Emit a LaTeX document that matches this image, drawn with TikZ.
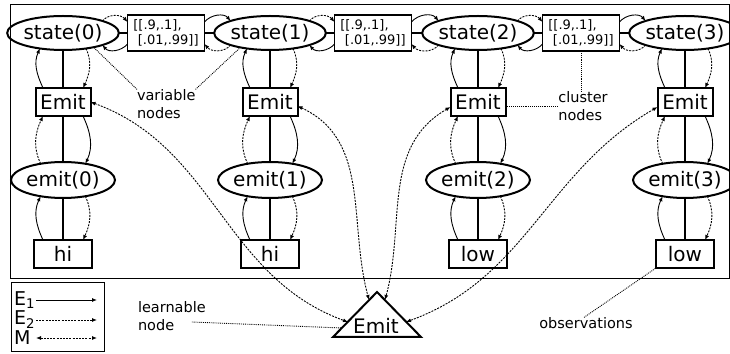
\documentclass[tikz,border=0pt]{standalone}
\usepackage{fontspec}
\setmainfont{DejaVu Sans}
\usetikzlibrary{arrows.meta,calc,shapes.geometric}
\begin{document}
\begin{tikzpicture}[x=1pt,y=1pt,
  every node/.style={inner sep=0pt, outer sep=0pt},
  bigfont/.style={font=\fontsize{20}{23}\selectfont},
  var/.style={ellipse, draw, line width=2pt, minimum width=92pt, minimum height=34pt, bigfont},
  box/.style={rectangle, draw, line width=2pt, minimum width=55pt, minimum height=28pt, bigfont},
  obsbox/.style={box, minimum width=58pt},
  clus/.style={rectangle, draw, line width=1.7pt, minimum width=77pt, minimum height=36pt, align=left, font=\fontsize{13}{15.5}\selectfont},
  link/.style={line width=1.5pt},
  eone/.style={-{Latex[length=5pt,width=4pt]}, line width=0.9pt},
  etwo/.style={eone, dash pattern=on 2pt off 1.2pt},
  mm/.style={{Latex[length=5pt,width=4pt]}-{Latex[length=5pt,width=4pt]}, line width=0.9pt, dash pattern=on 2pt off 1.2pt},
  ptr/.style={line width=0.9pt, densely dotted},
  lab/.style={font=\fontsize{14.5}{18}\selectfont, align=left},
  leg/.style={font=\fontsize{19}{20}\selectfont, text width=20pt, align=left, anchor=west},
]
\fill[white] (0,0) rectangle (730,353);
\useasboundingbox (0,0) rectangle (730,353);

% frames
\draw[line width=1pt] (10,74) rectangle (729,348);
\draw[line width=1pt] (11,2) rectangle (104,70);

% columns
\foreach \i/\x/\o in {0/63/hi,1/270/hi,2/478/low,3/685/low}{
  \node[var] (S\i) at (\x,320) {state(\i)};
  \node[box] (B\i) at (\x,251) {Emit};
  \node[var, minimum height=36pt] (M\i) at (\x,173) {emit(\i)};
  \node[obsbox] (O\i) at (\x,99) {\o};
  \draw[link] (S\i) -- (B\i);
  \draw[link] (B\i) -- (M\i);
  \draw[link] (M\i) -- (O\i);
  \draw[eone] ([xshift=-20pt]B\i.north) to[out=115,in=245] (S\i.214);
  \draw[etwo] (S\i.326) to[out=-65,in=65] ([xshift=20pt]B\i.north);
  \draw[eone] ([xshift=20pt]B\i.south) to[out=-65,in=65] (M\i.36);
  \draw[etwo] (M\i.144) to[out=115,in=245] ([xshift=-20pt]B\i.south);
  \draw[eone] ([xshift=-20pt]O\i.north) to[out=115,in=245] (M\i.216);
  \draw[etwo] (M\i.324) to[out=-65,in=65] ([xshift=20pt]O\i.north);
}

% cluster nodes
\foreach \k/\x/\l/\r in {0/166/0/1,1/373/1/2,2/581/2/3}{
  \node[clus] (C\k) at (\x,320) {[[.9,.1],\\{}\hspace*{0.35em}[.01,.99]]};
  \draw[link] (S\l) -- (C\k);
  \draw[link] (C\k) -- (S\r);
  \draw[etwo] (S\l.17) to[out=50,in=130] ([yshift=11pt]C\k.west);
  \draw[eone] ([yshift=-11pt]C\k.west) to[out=230,in=-50] (S\l.-17);
  \draw[eone] ([yshift=11pt]C\k.east) to[out=50,in=130] (S\r.163);
  \draw[etwo] (S\r.197) to[out=230,in=-50] ([yshift=-11pt]C\k.east);
}

% learnable triangle
\coordinate (Ta) at (377,61);
\coordinate (Tl) at (333,16);
\coordinate (Tr) at (421,16);
\draw[line width=2pt, line join=miter] (Ta) -- (Tr) -- (Tl) -- cycle;
\node[bigfont] (T) at (376,27) {Emit};
\coordinate (TL) at (348,31);
\coordinate (TAL) at (369,53);
\coordinate (TAR) at (385,53);
\coordinate (TR) at (406,31);
\coordinate (TLL) at (342,25);

\draw[mm] (B0.east) to[out=-20,in=160] (TL);
\draw[mm] ([yshift=-4pt]B1.east) to[out=-25,in=105] (TAL);
\draw[mm] ([yshift=-5pt]B2.west) to[out=210,in=75] (TAR);
\draw[mm] ([yshift=-5pt]B3.west) to[out=210,in=20] (TR);

% labels
\node[lab, anchor=west] (V) at (137,249) {variable\\nodes};
\draw[ptr] (V.north west) -- (S0.335);
\draw[ptr] (V.north east) -- (S1.206);

\node[lab] (Cn) at (583,247) {cluster\\nodes};
\draw[ptr] (C2.south) -- (C2.south |- Cn.north);
\draw[ptr] ([yshift=-4pt]B2.east) -- (Cn.west);

\node[lab, anchor=west] (Ln) at (138,37) {learnable\\node};
\draw[ptr] ([xshift=-14pt,yshift=-6pt]Ln.east) -- (TLL);

\node[lab] (Ob) at (586,30) {observations};
\draw[ptr] ([xshift=-2pt]Ob.north) -- (O3.south west);

% legend
\node[leg] (L1) at (14,53) {E\textsubscript{1}};
\node[leg] (L2) at (14,33) {E\textsubscript{2}};
\node[leg] (L3) at (14,15) {M};
\coordinate (L1e) at (97,53);
\coordinate (L2e) at (97,33);
\coordinate (L3e) at (97,15);
\draw[eone] ([xshift=2pt]L1.east) -- (L1e);
\draw[etwo] ([xshift=2pt]L2.east) -- (L2e);
\draw[mm] ([xshift=2pt]L3.east) -- (L3e);
\end{tikzpicture}
\end{document}
